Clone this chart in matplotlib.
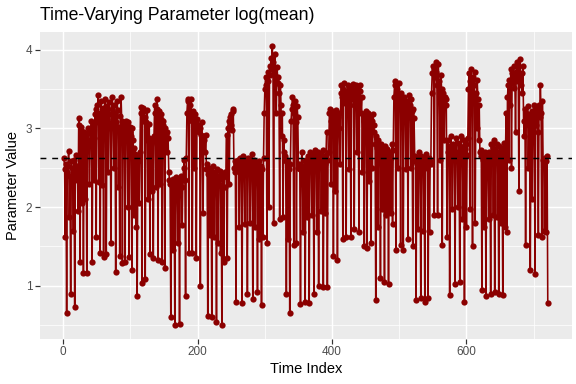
import numpy as np
import matplotlib.pyplot as plt
from matplotlib.ticker import MultipleLocator

# values, in blocks of 90 time steps
block_a = [2.62, 2.48, 1.62, 2.55, 0.66, 2.45, 2.52, 2.71, 1.88, 2.40,
           0.90, 2.58, 2.50, 2.44, 1.70, 2.60, 0.73, 2.47, 2.66, 2.35,
           2.52, 1.95, 3.13, 3.05, 1.30, 2.98, 3.02, 2.05, 2.92, 1.16,
           2.95, 2.90, 2.10, 2.88, 1.16, 2.93, 3.00, 2.80, 2.30, 2.85,
           2.97, 3.10, 1.30, 3.05, 2.88, 2.35, 3.18, 3.25, 1.62, 3.30,
           3.08, 3.42, 2.32, 3.20, 1.42, 3.35, 3.12, 2.28, 3.26, 1.36,
           3.22, 3.38, 3.15, 1.40, 3.28, 3.05, 2.45, 3.33, 3.18, 3.00,
           1.54, 3.25, 3.40, 3.12, 2.50, 3.30, 3.20, 1.18, 3.08, 3.35,
           3.24, 2.25, 3.02, 1.38, 3.16, 3.40, 3.10, 1.29, 3.00, 3.06]
block_b = [3.05, 1.30, 3.10, 2.98, 3.04, 2.00, 3.08, 1.37, 2.95, 3.02,
           2.90, 1.20, 3.00, 2.85, 1.90, 2.75, 2.68, 1.75, 2.62, 0.87,
           2.58, 2.65, 2.05, 2.70, 3.27, 3.20, 1.03, 3.26, 3.10, 3.22,
           3.15, 1.09, 3.08, 2.85, 3.24, 2.10, 2.88, 3.06, 1.40, 2.80,
           2.86, 2.20, 2.84, 1.35, 2.90, 3.30, 3.20, 2.25, 3.38, 3.25,
           1.33, 3.22, 3.15, 2.30, 3.12, 3.18, 1.30, 3.05, 3.10, 2.95,
           1.22, 3.00, 2.92, 2.70, 2.95, 2.88, 2.45, 2.35, 2.30, 0.60,
           2.32, 2.28, 1.45, 2.36, 2.25, 0.50, 2.30, 2.38, 2.22, 1.55,
           2.34, 2.28, 0.52, 2.30, 2.40, 2.26, 1.77, 2.35, 2.50, 2.60]
block_c = [2.35, 0.87, 2.62, 3.20, 3.35, 3.38, 1.42, 3.30, 3.15, 3.37,
           3.10, 1.42, 3.22, 3.05, 2.50, 3.18, 3.08, 1.35, 3.12, 2.98,
           3.05, 2.95, 3.00, 1.00, 2.92, 3.08, 2.88, 1.92, 2.90, 2.85,
           2.70, 2.92, 2.48, 2.55, 0.62, 2.42, 2.50, 1.65, 2.38, 2.45,
           0.60, 2.40, 2.52, 1.62, 2.36, 2.44, 2.30, 0.54, 2.48, 1.55,
           2.40, 2.35, 2.46, 1.42, 2.28, 0.50, 2.42, 2.38, 1.30, 2.25,
           2.45, 2.40, 2.92, 1.35, 3.00, 3.10, 2.30, 3.15, 3.05, 3.18,
           2.98, 3.22, 3.25, 2.50, 2.45, 2.58, 0.80, 2.52, 2.48, 2.60,
           2.55, 1.75, 2.62, 2.50, 2.45, 0.78, 2.58, 2.65, 2.52, 1.78]
block_d = [2.60, 2.48, 2.55, 0.90, 2.62, 2.50, 2.58, 1.80, 2.46, 2.55,
           2.68, 0.83, 2.52, 2.60, 1.75, 2.48, 2.56, 2.44, 0.92, 2.50,
           2.58, 1.60, 2.45, 2.52, 0.75, 2.48, 1.62, 2.62, 3.20, 3.50,
           3.65, 3.55, 1.55, 3.72, 3.60, 2.00, 3.80, 3.68, 3.90, 3.75,
           4.05, 3.85, 1.80, 3.70, 3.95, 3.62, 3.20, 3.78, 3.66, 3.58,
           3.45, 1.85, 3.55, 3.30, 2.90, 3.20, 1.88, 2.85, 2.70, 2.65,
           2.58, 0.90, 2.60, 2.52, 1.60, 2.48, 0.66, 2.55, 3.10, 3.25,
           3.40, 3.30, 1.52, 3.20, 3.35, 3.08, 1.55, 3.28, 3.15, 2.50,
           2.55, 2.48, 0.77, 2.52, 2.70, 2.45, 1.68, 2.50, 2.58, 0.80]
block_e = [2.60, 2.52, 1.88, 2.65, 2.55, 0.78, 2.70, 2.62, 2.58, 1.90,
           2.68, 2.55, 0.90, 2.72, 2.60, 2.65, 1.68, 2.58, 2.70, 1.00,
           2.62, 2.55, 2.68, 1.95, 2.60, 2.72, 0.98, 2.64, 2.55, 1.92,
           2.66, 2.95, 0.98, 2.60, 2.70, 3.20, 3.25, 2.30, 3.10, 3.22,
           3.05, 1.38, 3.18, 3.12, 2.20, 3.24, 3.08, 1.33, 3.15, 3.20,
           3.00, 2.55, 3.45, 3.55, 3.40, 1.60, 3.50, 3.58, 3.32, 3.48,
           1.62, 3.40, 3.55, 3.35, 2.48, 3.52, 3.45, 1.62, 3.38, 3.50,
           3.56, 3.30, 1.72, 3.45, 3.55, 3.42, 2.70, 3.50, 3.36, 1.68,
           3.48, 3.55, 3.20, 3.40, 2.45, 3.18, 3.10, 1.50, 3.15, 3.22]
block_f = [3.08, 1.48, 3.12, 3.20, 2.33, 3.05, 3.15, 1.55, 3.10, 2.50,
           3.18, 3.05, 2.95, 2.80, 0.82, 2.90, 2.75, 1.75, 2.85, 2.70,
           2.68, 1.10, 2.80, 2.75, 1.97, 2.72, 2.66, 1.05, 2.78, 2.70,
           1.90, 2.74, 2.65, 1.02, 2.70, 2.68, 1.92, 2.62, 2.80, 1.78,
           2.72, 3.40, 3.55, 3.60, 1.45, 3.50, 3.35, 2.50, 3.58, 3.42,
           3.30, 1.52, 3.45, 3.38, 3.25, 1.45, 3.40, 3.32, 3.20, 2.48,
           3.35, 3.28, 1.60, 3.42, 3.15, 3.30, 2.50, 3.38, 3.22, 1.50,
           3.25, 3.13, 2.65, 2.58, 0.82, 2.62, 2.55, 1.72, 2.60, 2.70,
           2.55, 0.84, 2.65, 2.58, 2.62, 1.70, 2.52, 0.80, 2.60, 2.68]
block_g = [2.56, 2.50, 0.85, 2.62, 1.68, 2.58, 2.55, 3.45, 3.70, 3.80,
           3.75, 1.90, 3.65, 3.85, 3.72, 3.55, 1.90, 3.82, 3.60, 3.40,
           2.60, 3.68, 3.50, 1.52, 3.45, 3.35, 2.85, 3.40, 3.30, 3.38,
           1.62, 2.85, 2.70, 2.78, 0.88, 2.66, 2.90, 2.72, 1.97, 2.80,
           2.68, 2.75, 1.02, 2.88, 2.62, 2.70, 2.00, 2.82, 2.65, 1.05,
           2.78, 2.90, 2.72, 1.85, 2.68, 2.85, 0.80, 2.74, 2.80, 1.75,
           2.66, 2.88, 3.50, 3.70, 1.97, 3.60, 3.75, 3.40, 1.50, 3.65,
           3.55, 3.72, 1.80, 3.45, 3.00, 3.62, 3.38, 2.85, 3.30, 2.70,
           2.65, 2.72, 0.95, 2.60, 2.68, 1.75, 2.62, 2.70, 0.87, 2.58]
block_h = [2.66, 2.50, 1.85, 2.70, 2.62, 0.90, 2.80, 2.68, 2.75, 1.90,
           2.85, 0.92, 2.72, 2.65, 2.80, 1.88, 2.70, 0.90, 2.78, 2.62,
           1.80, 2.68, 2.75, 0.88, 2.70, 2.82, 1.75, 2.66, 3.20, 1.68,
           3.40, 3.55, 2.60, 3.62, 3.30, 3.75, 2.50, 3.70, 3.58, 3.80,
           3.52, 3.65, 2.95, 3.72, 3.85, 3.60, 3.78, 2.20, 3.68, 3.88,
           3.55, 3.70, 3.45, 3.80, 3.10, 2.90, 3.25, 1.52, 3.20, 3.15,
           3.28, 2.50, 3.05, 3.18, 1.20, 3.10, 3.22, 2.10, 3.00, 3.30,
           3.12, 1.15, 3.20, 3.05, 3.25, 2.95, 1.65, 3.30, 3.15, 3.55,
           3.20, 1.62, 3.35, 2.60, 2.55, 1.70, 2.62, 2.58, 1.68, 2.65,
           0.78]
ref_level = 2.63

values = np.concatenate([block_a, block_b, block_c, block_d,
                         block_e, block_f, block_g, block_h])
time_index = np.arange(1, len(values) + 1)

plt.rcParams['font.family'] = ['Liberation Sans', 'DejaVu Sans']

fig = plt.figure(figsize=(6, 4), dpi=96)
ax = fig.add_axes([0.069, 0.117, 0.924, 0.800])
ax.set_facecolor('#EBEBEB')

ax.plot(time_index, values, color='#8B0000', lw=1.2, zorder=3)
ax.scatter(time_index, values, s=22, color='#8B0000', lw=0, zorder=4)
ax.axhline(ref_level, color='black', ls=(0, (4, 4)), lw=1.1, zorder=5)

span = values.max() - values.min()
ax.set_ylim(values.min() - 0.05 * span, values.max() + 0.05 * span)
xspan = time_index[-1] - time_index[0]
ax.set_xlim(time_index[0] - 0.05 * xspan, time_index[-1] + 0.05 * xspan)

ax.xaxis.set_major_locator(MultipleLocator(200))
ax.xaxis.set_minor_locator(MultipleLocator(100))
ax.yaxis.set_major_locator(MultipleLocator(1))
ax.yaxis.set_minor_locator(MultipleLocator(0.5))
ax.grid(which='major', color='white', lw=1.1, zorder=0)
ax.grid(which='minor', color='white', lw=0.55, zorder=0)
ax.set_axisbelow(True)
for sp in ax.spines.values():
    sp.set_visible(False)
ax.tick_params(which='major', length=3.5, width=0.9, color='#333333',
               labelcolor='#4D4D4D', labelsize=8.8, pad=2)
ax.tick_params(which='minor', length=0)

ax.set_xlabel('Time Index', fontsize=11, labelpad=3)
ax.set_ylabel('Parameter Value', fontsize=11, labelpad=4)
fig.text(0.069, 0.947, 'Time-Varying Parameter log(mean)', fontsize=13.2,
         va='baseline')

fig.savefig('out.png', dpi=96)
